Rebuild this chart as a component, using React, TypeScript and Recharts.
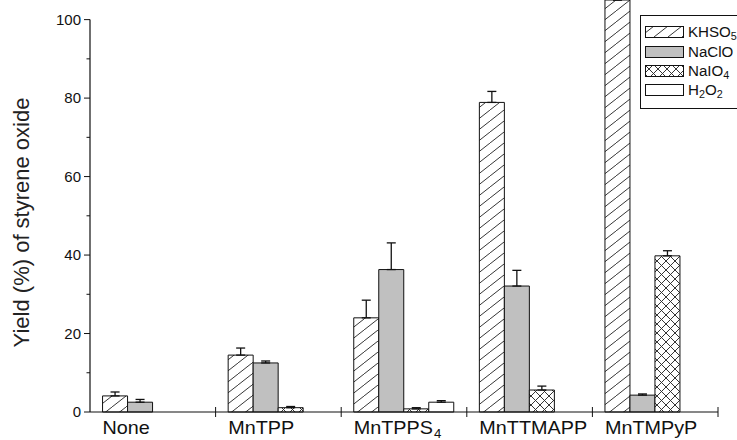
import React from 'react';
import { BarChart, Bar, XAxis, YAxis, ErrorBar } from 'recharts';

// yields (%), error = upper whisker only
const categories = ['None', 'MnTPP', 'MnTPPS4', 'MnTTMAPP', 'MnTMPyP'];
const khso5 = [4.1, 14.5, 24.0, 78.9, 105];
const khso5Err = [1.0, 1.8, 4.5, 2.8, 0];
const naclo = [2.5, 12.5, 36.3, 32.1, 4.3];
const nacloErr = [0.7, 0.5, 6.8, 4.0, 0.3];
const naio4 = [0, 1.1, 0.8, 5.6, 39.8];
const naio4Err = [0, 0.3, 0.3, 1.0, 1.3];
const h2o2 = [0, 0, 2.5, 0, 0];
const h2o2Err = [0, 0, 0.4, 0, 0];
const yTicks = [0, 10, 20, 30, 40, 50, 60, 70, 80, 90, 100];

const data = categories.map((name, i) => ({
  name,
  khso5: khso5[i],
  khso5Err: [0, khso5Err[i]],
  naclo: naclo[i],
  nacloErr: [0, nacloErr[i]],
  naio4: naio4[i],
  naio4Err: [0, naio4Err[i]],
  h2o2: h2o2[i],
  h2o2Err: [0, h2o2Err[i]],
}));

const series = [
  { key: 'khso5', name: 'KHSO5', fill: 'hatch' },
  { key: 'naclo', name: 'NaClO', fill: '#c0c0c0' },
  { key: 'naio4', name: 'NaIO4', fill: 'cross' },
  { key: 'h2o2', name: 'H2O2', fill: '#ffffff' },
];

const font = '"Liberation Sans", Arial, Helvetica, sans-serif';
const ink = '#111';

const Patterns = ({ prefix }: { prefix: string }) => (
  <defs>
    <pattern id={`${prefix}hatch`} patternUnits="userSpaceOnUse" width={14} height={11}>
      <rect width={14} height={11} fill="#fff" />
      <path d="M-7,16.5 L21,-5.5" stroke="#2a2a2a" strokeWidth={0.95} />
    </pattern>
    <pattern id={`${prefix}cross`} patternUnits="userSpaceOnUse" width={9} height={9}>
      <rect width={9} height={9} fill="#fff" />
      <path d="M-2,-2 L11,11 M-2,11 L11,-2" stroke="#2a2a2a" strokeWidth={0.95} />
    </pattern>
  </defs>
);

const fillFor = (f: string, prefix: string) =>
  f.startsWith('#') ? f : `url(#${prefix}${f})`;

// chemical names with subscripts
const Formula = ({ name, small }: { name: string; small: number }) => {
  const parts = name.match(/[A-Za-z]+|\d+/g) || [];
  let down = false;
  return (
    <>
      {parts.map((p, i) => {
        const isNum = /\d/.test(p);
        const dy = isNum && !down ? 3 : !isNum && down ? -3 : 0;
        down = isNum;
        return (
          <tspan key={i} dy={dy} fontSize={isNum ? small : undefined}>
            {p}
          </tspan>
        );
      })}
    </>
  );
};

const LegendBox = () => {
  const rows = [17, 37, 56, 75];
  return (
    <svg width={120} height={94} style={{ display: 'block', fontFamily: font }}>
      <Patterns prefix="lg-" />
      <rect x={0.5} y={0.5} width={119} height={93} fill="#fff" stroke={ink} />
      {series.map((s, i) => (
        <g key={s.key}>
          <rect x={5.5} y={rows[i] - 5.5} width={38} height={11}
            fill={fillFor(s.fill, 'lg-')} stroke={ink} />
          <text transform={`translate(48,${rows[i] + 5}) scale(1.08,1)`} fontSize={14} fill={ink}>
            <Formula name={s.name} small={10} />
          </text>
        </g>
      ))}
    </svg>
  );
};

const XTick = (props: any) => {
  const { x, y, payload, width, visibleTicksCount } = props;
  const half = typeof payload.offset === 'number' && payload.offset > 0
    ? payload.offset
    : width / visibleTicksCount / 2;
  const start = x - half * 0.8;
  const label = payload.value === 'MnTPPS4'
    ? <><tspan>MnTPPS</tspan><tspan dx={1} dy={4} fontSize={12}>4</tspan></>
    : payload.value;
  return (
    <g>
      <line x1={x + half} x2={x + half} y1={y - 5} y2={y + 5} stroke={ink} />
      <text transform={`translate(${start},${y + 22}) scale(1.1,1)`} fontSize={18} fill={ink}>
        {label}
      </text>
    </g>
  );
};

const YTick = (props: any) => {
  const { x, y, payload } = props;
  const major = payload.value % 20 === 0;
  return (
    <g>
      <line x1={x - (major ? 6 : 3.5)} x2={x} y1={y} y2={y} stroke={ink} />
      {major && (
        <text x={x - 9} y={y + 5} textAnchor="end" fontSize={15} fill={ink}>
          {payload.value}
        </text>
      )}
    </g>
  );
};

const YTitle = (props: any) => {
  const vb = props.viewBox || { x: 0, y: 0, height: 412 };
  const cx = vb.x + 22;
  const cy = vb.y + vb.height * 0.54;
  return (
    <text x={cx} y={cy} transform={`rotate(-90 ${cx} ${cy})`} textAnchor="middle"
      dominantBaseline="central" fontSize={22} fill="#222">
      Yield (%) of styrene oxide
    </text>
  );
};

export default function App() {
  return (
    <div style={{ position: 'absolute', left: 0, top: 0, width: 737, height: 440,
      overflow: 'hidden', background: '#fff', fontFamily: font }}>
      <BarChart width={737} height={440} data={data}
        margin={{ top: 0, right: 19, bottom: 0, left: 0 }}
        barGap={0} barCategoryGap="10%">
        <Patterns prefix="" />
        <XAxis dataKey="name" height={28} tickSize={0} tickMargin={0}
          axisLine={{ stroke: ink, strokeWidth: 1.2 }} tickLine={false}
          tick={<XTick />} interval={0} />
        <YAxis width={90} domain={[0, 105]} ticks={yTicks} interval={0}
          tickSize={0} tickMargin={0} tickLine={false}
          axisLine={{ stroke: ink, strokeWidth: 1.2, strokeDasharray: '0 19.6 1000' }}
          tick={<YTick />} label={<YTitle />} />
        {series.map((s) => (
          <Bar key={s.key} dataKey={s.key} name={s.name} fill={fillFor(s.fill, '')}
            stroke={ink} strokeWidth={1} isAnimationActive={false}>
            <ErrorBar dataKey={`${s.key}Err`} width={4.5} stroke={ink} strokeWidth={1.3}
              direction="y" />
          </Bar>
        ))}
      </BarChart>
      <div style={{ position: 'absolute', left: 640, top: 15 }}>
        <LegendBox />
      </div>
    </div>
  );
}
